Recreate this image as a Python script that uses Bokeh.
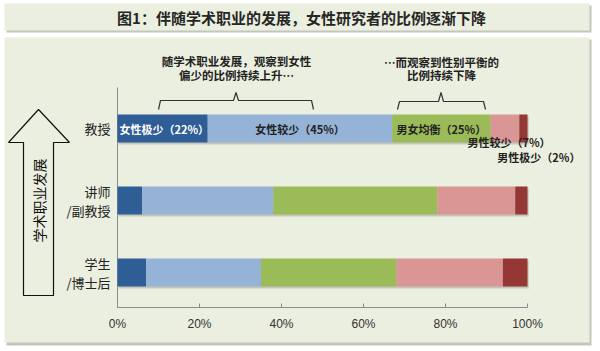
import math
from bokeh.plotting import figure
from bokeh.models import Range1d
from bokeh.core.properties import value
from bokeh.embed import file_html
from bokeh.resources import INLINE

# ---------------- data ----------------
categories = ["学生\n/博士后", "讲师\n/副教授", "教授"]
segments = ["女性极少", "女性较少", "男女均衡", "男性较少", "男性极少"]
student = [7, 28, 33, 26, 6]
lecturer = [6, 32, 40, 19, 3]
professor = [22, 45, 24, 7, 2]
professor_labels = ["女性极少（22%）", "女性较少（45%）", "男女均衡（25%）", "男性较少（7%）", "男性极少（2%）"]
tick_values = [0, 20, 40, 60, 80, 100]
tick_labels = ["0%", "20%", "40%", "60%", "80%", "100%"]
title_text = "图1：伴随学术职业的发展，女性研究者的比例逐渐下降"
arrow_text = "学术职业发展"
note_left = ["随学术职业发展，观察到女性", "偏少的比例持续上升…"]
note_right = ["…而观察到性别平衡的", "比例持续下降"]

colors = ["#2F5D95", "#95B3D7", "#9BBB59", "#D99694", "#953735"]
FONT = value("Noto Sans CJK SC")

# pixel helpers for decoration placement
PX0, PPU = 117.0, 4.1     # 0% at x=117px, 4.1 px per percent
PY0, PPC = 272.0, 72.0    # category 0 at y=272px, 72 px per category


def X(px):
    return (px - PX0) / PPU


def Y(py):
    return (PY0 - py) / PPC


p = figure(width=600, height=351, x_range=Range1d(X(0), X(600)), y_range=Range1d(Y(351), Y(0)),
           output_backend="svg", toolbar_location=None, min_border=0)
p.axis.visible = False
p.grid.visible = False
p.outline_line_color = None
p.background_fill_color = "white"
p.border_fill_color = "white"

BG = "#EBEFDF"
SH = "#C4C6BE"
# title box + shadow
p.quad(left=[X(6)], right=[X(591)], top=[Y(5)], bottom=[Y(32)], fill_color=SH, line_color=None)
p.quad(left=[X(4)], right=[X(589)], top=[Y(3)], bottom=[Y(30)], fill_color=BG, line_color=None)
# main panel + shadow
p.quad(left=[X(6)], right=[X(591)], top=[Y(39)], bottom=[Y(345)], fill_color=SH, line_color=None)
p.quad(left=[X(4)], right=[X(589)], top=[Y(37)], bottom=[Y(342)], fill_color=BG, line_color=None)

p.text(x=[X(301)], y=[Y(17)], text=[title_text], text_font=FONT, text_font_size="15px",
       text_font_style="bold", text_color="#262626", text_align="center", text_baseline="middle")

# axes
AX = "#8C8C8C"
p.segment(x0=[0], y0=[Y(87)], x1=[0], y1=[Y(307)], line_color=AX, line_width=1)
p.segment(x0=[tick_values[0]], y0=[Y(307)], x1=[tick_values[-1]], y1=[Y(307)], line_color=AX, line_width=1)
p.segment(x0=tick_values, y0=[Y(307)] * len(tick_values), x1=tick_values, y1=[Y(303)] * len(tick_values),
          line_color=AX, line_width=1)
p.text(x=tick_values, y=[Y(323)] * len(tick_values), text=tick_labels, text_font=value("Liberation Sans"),
       text_font_size="12px", text_color="#333333", text_align="center", text_baseline="middle")

# bars
rows = [student, lecturer, professor]
BH = 28.0 / PPC
for i, vals in enumerate(rows):
    left = 0
    lefts, rights = [], []
    for v in vals:
        lefts.append(left)
        rights.append(left + v)
        left += v
    # soft shadow
    p.hbar(y=i - 2.0 / PPC, left=0.3, right=rights[-1] + 0.3, height=BH, fill_color="#B9BDB0",
           line_color=None, fill_alpha=0.8)
    p.hbar(y=[i] * len(vals), left=lefts, right=rights, height=BH, fill_color=colors, line_color=None)

# category labels (one text per line, 19px apart)
for i, cat in enumerate(categories):
    lines = cat.split("\n")
    n = len(lines)
    for j, ln in enumerate(lines):
        dy = (j - (n - 1) / 2.0) * 19.0 / PPC
        p.text(x=[X(110)], y=[i - dy], text=[ln], text_font=FONT, text_font_size="13px",
               text_color="#222222", text_align="right", text_baseline="middle")

# in-bar labels for professor row
pi_ = 2
cum = [sum(professor[:k]) for k in range(len(professor))]
centers = [cum[k] + professor[k] / 2 for k in range(len(professor))]
lab_x = [cum[0] + 2.0 / PPU, centers[1], centers[2], centers[3] + 4.0 / PPU, centers[4] + 15.5 / PPU]
lab_y = [pi_, pi_, pi_, pi_ - 13.0 / PPC, pi_ - 28.0 / PPC]
lab_align = ["left", "center", "center", "center", "center"]
lab_color = ["white", "#222222", "#222222", "#222222", "#222222"]
for k in range(5):
    p.text(x=[lab_x[k]], y=[lab_y[k]], text=[professor_labels[k]], text_font=FONT, text_font_size="11px",
           text_font_style="bold", text_color=lab_color[k], text_align=lab_align[k], text_baseline="middle")

# big up arrow
ax_px = [38, 69, 53, 53, 23, 23, 8]
ay_px = [109, 142, 142, 295, 295, 142, 142]
p.patch(x=[X(v) for v in ax_px], y=[Y(v) for v in ay_px], fill_color=BG, line_color="#111111", line_width=1.2)
p.text(x=[X(38)], y=[Y(200)], text=[arrow_text], angle=math.pi / 2, text_font=FONT, text_font_size="14px",
       text_color="#111111", text_align="center", text_baseline="middle")

# brackets
bl_x = [158, 160, 233, 235.5, 238, 311, 313]
bl_y = [109, 100, 100, 92, 100, 100, 109]
p.line(x=[X(v) for v in bl_x], y=[Y(v) for v in bl_y], line_color="#333333", line_width=1.2)
br_x = [397, 399, 438, 440.5, 443, 483, 485]
br_y = [109, 101, 101, 92, 101, 101, 109]
p.line(x=[X(v) for v in br_x], y=[Y(v) for v in br_y], line_color="#333333", line_width=1.2)

# notes
p.text(x=[X(236)] * 2, y=[Y(60.5), Y(74)], text=note_left, text_font=FONT, text_font_size="11.5px",
       text_font_style="bold", text_color="#222222", text_align="center", text_baseline="middle")
p.text(x=[X(441)] * 2, y=[Y(61), Y(74)], text=note_right, text_font=FONT, text_font_size="11.5px",
       text_font_style="bold", text_color="#222222", text_align="center", text_baseline="middle")

open("out.html", "w").write(file_html(p, INLINE))
